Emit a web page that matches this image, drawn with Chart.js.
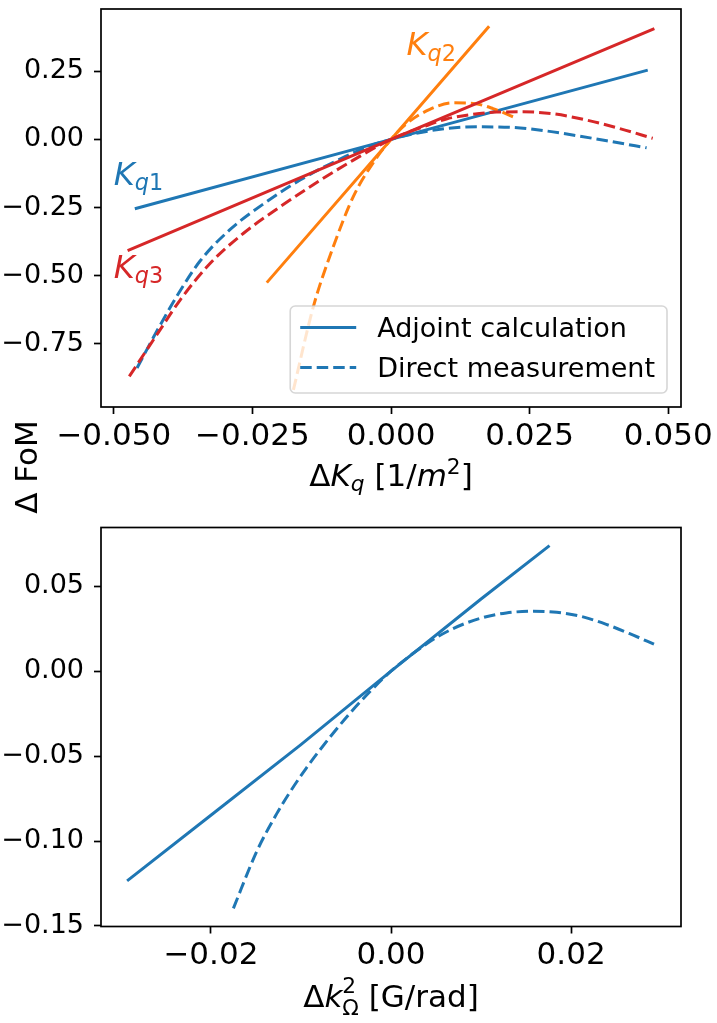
<!DOCTYPE html>
<html>
<head>
<meta charset="utf-8">
<title>Delta FoM</title>
<script src="https://cdn.jsdelivr.net/npm/chart.js@4.4.0/dist/chart.umd.min.js"></script>
<style>
  html, body { margin: 0; padding: 0; background: #fff; }
  body { width: 717px; height: 1023px; position: relative; overflow: hidden; }
  canvas { position: absolute; left: 0; }
  #top-chart { top: 0; }
  #bottom-chart { top: 500px; }
</style>
</head>
<body>
<canvas id="top-chart" width="717" height="530"></canvas>
<canvas id="bottom-chart" width="717" height="523"></canvas>
<script>
// Colours (matplotlib tab10)
const BLUE = '#1f77b4';
const ORANGE = '#ff7f0e';
const RED = '#d62728';
const FONT = '"DejaVu Sans", sans-serif';

// Top panel - adjoint (solid) lines per quadrupole family
const kq1X = [-0.0462, 0, 0.0463];
const kq1Adjoint = [-0.254, 0, 0.254];
const kq2X = [-0.0224, 0, 0.0177];
const kq2Adjoint = [-0.525, 0, 0.415];
const kq3X = [-0.0475, 0, 0.0475];
const kq3Adjoint = [-0.408, 0, 0.406];

// Top panel - direct measurement (dashed)
const kq1MeasX = [-0.0458, -0.0421, -0.0383, -0.0344, -0.0290, -0.0224, -0.0164, -0.0092, -0.0044, 0, 0.0040, 0.0100, 0.0160, 0.0220, 0.0280, 0.0340, 0.0400, 0.0461];
const kq1Measured = [-0.838, -0.698, -0.564, -0.445, -0.330, -0.228, -0.149, -0.072, -0.029, 0, 0.020, 0.040, 0.046, 0.044, 0.031, 0.012, -0.009, -0.031];
const kq2MeasX = [-0.0176, -0.0140, -0.0104, -0.0068, -0.0032, 0, 0.0028, 0.0070, 0.0112, 0.0148, 0.0184, 0.0220];
const kq2Measured = [-0.918, -0.613, -0.393, -0.210, -0.085, 0, 0.058, 0.110, 0.134, 0.132, 0.113, 0.083];
const kq3MeasX = [-0.0472, -0.0421, -0.0380, -0.0326, -0.0266, -0.0200, -0.0134, -0.0068, 0, 0.0058, 0.0100, 0.0148, 0.0190, 0.0238, 0.0292, 0.0352, 0.0412, 0.0472];
const kq3Measured = [-0.869, -0.712, -0.588, -0.454, -0.344, -0.247, -0.158, -0.076, 0, 0.046, 0.075, 0.092, 0.100, 0.101, 0.094, 0.071, 0.040, 0.004];

// Bottom panel - k_Omega^2
const kOmegaX = [-0.0293, -0.0200, -0.0100, 0, 0.0100, 0.0176];
const kOmegaAdjoint = [-0.1234, -0.0848, -0.0432, 0, 0.0425, 0.0739];
const kOmegaMeasX = [-0.0175, -0.0149, -0.0127, -0.0112, -0.0094, -0.0068, -0.0046, -0.0023, 0, 0.0040, 0.0069, 0.0102, 0.0128, 0.0158, 0.0184, 0.0210, 0.0239, 0.0269, 0.0292];
const kOmegaMeasured = [-0.1396, -0.1060, -0.0840, -0.0710, -0.0570, -0.0390, -0.0250, -0.0118, 0, 0.0163, 0.0251, 0.0316, 0.0343, 0.0353, 0.0347, 0.0324, 0.0276, 0.0212, 0.0159];

// Ticks
const topXTicks = [-0.05, -0.025, 0, 0.025, 0.05];
const topYTicks = [-0.75, -0.5, -0.25, 0, 0.25];
const bottomXTicks = [-0.02, 0, 0.02];
const bottomYTicks = [-0.15, -0.1, -0.05, 0, 0.05];

// Legend + curve labels
const legendLabels = ['Adjoint calculation', 'Direct measurement'];
const legendDashes = [[], [11.5, 5]];
const curveLabels = [
    { name: 'q1', x: -0.0500, y: -0.167, color: BLUE },
    { name: 'q3', x: -0.0500, y: -0.508, color: RED },
    { name: 'q2', x: 0.0028, y: 0.309, color: ORANGE }
];

// Build a line dataset from two arrays
function lineSet(xs, ys, color, dashed) {
    return {
        data: xs.map((x, i) => ({ x: x, y: ys[i] })),
        borderColor: color,
        borderWidth: 3,
        borderDash: dashed ? [11.5, 5] : [],
        pointRadius: 0,
        fill: false,
        tension: dashed ? 0.4 : 0,
        cubicInterpolationMode: dashed ? 'monotone' : 'default'
    };
}

// Tick label with unicode minus
function fmt(v, dec) {
    return (v < 0 ? '\u2212' : '') + Math.abs(v).toFixed(dec);
}

// Rich text (italic / sub / sup) on the canvas
function partFont(p, size) {
    return (p.it ? 'italic ' : '') + size + 'px ' + FONT;
}

function partWidth(ctx, p, size) {
    if (p.stack) {
        ctx.font = partFont({}, size * 0.7);
        return Math.max(ctx.measureText(p.stack[0]).width, ctx.measureText(p.stack[1]).width);
    }
    ctx.font = partFont(p, (p.sub || p.sup) ? size * 0.7 : size);
    return ctx.measureText(p.t).width;
}

function drawRich(ctx, parts, x, y, size, align) {
    let total = 0;
    parts.forEach(p => { total += partWidth(ctx, p, size); });
    let cx = align === 'center' ? x - total / 2 : x;
    ctx.textAlign = 'left';
    ctx.textBaseline = 'alphabetic';
    parts.forEach(p => {
        const w = partWidth(ctx, p, size);
        if (p.stack) {
            ctx.font = partFont({}, size * 0.7);
            ctx.fillText(p.stack[0], cx, y - size * 0.42);
            ctx.fillText(p.stack[1], cx, y + size * 0.28);
        } else {
            const dy = p.sub ? size * 0.17 : (p.sup ? -size * 0.38 : 0);
            ctx.font = partFont(p, (p.sub || p.sup) ? size * 0.7 : size);
            ctx.fillText(p.t, cx, y + dy);
        }
        cx += w;
    });
}

// Full box round the plot area
const framePlugin = {
    id: 'frame',
    afterDraw(chart) {
        const a = chart.chartArea;
        const ctx = chart.ctx;
        ctx.save();
        ctx.strokeStyle = '#000';
        ctx.lineWidth = 1.7;
        ctx.strokeRect(a.left, a.top, a.right - a.left, a.bottom - a.top);
        ctx.restore();
    }
};

// Top panel extras: legend, curve labels, axis titles
const topExtras = {
    id: 'topExtras',
    afterDatasetsDraw(chart) {
        const ctx = chart.ctx;
        const a = chart.chartArea;
        const sx = chart.scales.x;
        const sy = chart.scales.y;
        ctx.save();

        // curve labels K_q1 ...
        curveLabels.forEach(lbl => {
            ctx.fillStyle = lbl.color;
            drawRich(ctx, [{ t: 'K', it: true }, { t: lbl.name[0], it: true, sub: true }, { t: lbl.name[1], sub: true }],
                sx.getPixelForValue(lbl.x), sy.getPixelForValue(lbl.y), 32, 'left');
        });

        // legend box
        ctx.font = '27px ' + FONT;
        const textW = Math.max(...legendLabels.map(t => ctx.measureText(t).width));
        const w = 10 + 56 + 21 + textW + 12;
        const h = 87;
        const x0 = a.right - 14 - w;
        const y0 = a.bottom - 14 - h;
        ctx.beginPath();
        ctx.roundRect(x0, y0, w, h, 5);
        ctx.fillStyle = 'rgba(255,255,255,0.8)';
        ctx.fill();
        ctx.strokeStyle = 'rgba(204,204,204,0.8)';
        ctx.lineWidth = 1.6;
        ctx.stroke();

        legendLabels.forEach((text, i) => {
            const cy = y0 + 21.6 + 40 * i;
            ctx.beginPath();
            ctx.setLineDash(legendDashes[i]);
            ctx.strokeStyle = BLUE;
            ctx.lineWidth = 3;
            ctx.moveTo(x0 + 10, cy);
            ctx.lineTo(x0 + 66, cy);
            ctx.stroke();
            ctx.setLineDash([]);
            ctx.fillStyle = '#000';
            ctx.font = '27px ' + FONT;
            ctx.textAlign = 'left';
            ctx.textBaseline = 'alphabetic';
            ctx.fillText(text, x0 + 87, cy + 9.7);
        });

        // x title
        ctx.fillStyle = '#000';
        drawRich(ctx, [{ t: '\u0394' }, { t: 'K', it: true }, { t: 'q', it: true, sub: true }, { t: ' [1/' },
            { t: 'm', it: true }, { t: '2', sup: true }, { t: ']' }],
            (a.left + a.right) / 2, a.bottom + 79, 31, 'center');

        // shared y title
        ctx.translate(37, 467);
        ctx.rotate(-Math.PI / 2);
        ctx.font = '31px ' + FONT;
        ctx.textAlign = 'center';
        ctx.textBaseline = 'alphabetic';
        ctx.fillText('\u0394 FoM', 0, 0);
        ctx.restore();
    }
};

const bottomExtras = {
    id: 'bottomExtras',
    afterDatasetsDraw(chart) {
        const ctx = chart.ctx;
        const a = chart.chartArea;
        ctx.save();
        ctx.fillStyle = '#000';
        drawRich(ctx, [{ t: '\u0394' }, { t: 'k', it: true }, { stack: ['2', '\u03a9'] }, { t: ' [G/rad]' }],
            (a.left + a.right) / 2, a.bottom + 80, 31, 'center');
        ctx.restore();
    }
};

// Shared axis setup
function axisOptions(cfg) {
    const tickGrid = {
        display: true,
        drawOnChartArea: false,
        drawTicks: true,
        tickLength: 7,
        tickWidth: 1.7,
        tickColor: '#000'
    };
    return {
        responsive: false,
        animation: false,
        events: [],
        layout: { padding: { top: cfg.padTop, right: 36, left: 0, bottom: 0 } },
        plugins: { legend: { display: false }, tooltip: { enabled: false } },
        scales: {
            x: {
                type: 'linear',
                min: cfg.xMin,
                max: cfg.xMax,
                grid: tickGrid,
                border: { display: false },
                afterBuildTicks: s => { s.ticks = cfg.xTicks.map(v => ({ value: v })); },
                afterFit: s => { s.height = cfg.xAxisH; s.paddingLeft = 0; s.paddingRight = 0; },
                ticks: {
                    color: '#000',
                    font: { family: FONT, size: 31 },
                    padding: 4,
                    maxRotation: 0,
                    autoSkip: false,
                    callback: v => fmt(v, cfg.xDec)
                }
            },
            y: {
                type: 'linear',
                min: cfg.yMin,
                max: cfg.yMax,
                grid: tickGrid,
                border: { display: false },
                afterBuildTicks: s => { s.ticks = cfg.yTicks.map(v => ({ value: v })); },
                afterFit: s => { s.width = 101; s.paddingTop = 0; s.paddingBottom = 0; },
                ticks: {
                    color: '#000',
                    font: { family: FONT, size: 27 },
                    padding: 10,
                    autoSkip: false,
                    callback: v => fmt(v, 2)
                }
            }
        }
    };
}

// Top chart
new Chart(document.getElementById('top-chart'), {
    type: 'line',
    data: {
        datasets: [
            lineSet(kq3X, kq3Adjoint, RED, false),
            lineSet(kq3MeasX, kq3Measured, RED, true),
            lineSet(kq2X, kq2Adjoint, ORANGE, false),
            lineSet(kq2MeasX, kq2Measured, ORANGE, true),
            lineSet(kq1X, kq1Adjoint, BLUE, false),
            lineSet(kq1MeasX, kq1Measured, BLUE, true)
        ]
    },
    options: axisOptions({
        padTop: 9, xAxisH: 123,
        xMin: -0.0523, xMax: 0.0523, yMin: -0.981, yMax: 0.478,
        xTicks: topXTicks, yTicks: topYTicks, xDec: 3
    }),
    plugins: [framePlugin, topExtras]
});

// Bottom chart
new Chart(document.getElementById('bottom-chart'), {
    type: 'line',
    data: {
        datasets: [
            lineSet(kOmegaX, kOmegaAdjoint, BLUE, false),
            lineSet(kOmegaMeasX, kOmegaMeasured, BLUE, true)
        ]
    },
    options: axisOptions({
        padTop: 27.5, xAxisH: 96.5,
        xMin: -0.0322, xMax: 0.0322, yMin: -0.1503, yMax: 0.0846,
        xTicks: bottomXTicks, yTicks: bottomYTicks, xDec: 2
    }),
    plugins: [framePlugin, bottomExtras]
});
</script>
</body>
</html>
